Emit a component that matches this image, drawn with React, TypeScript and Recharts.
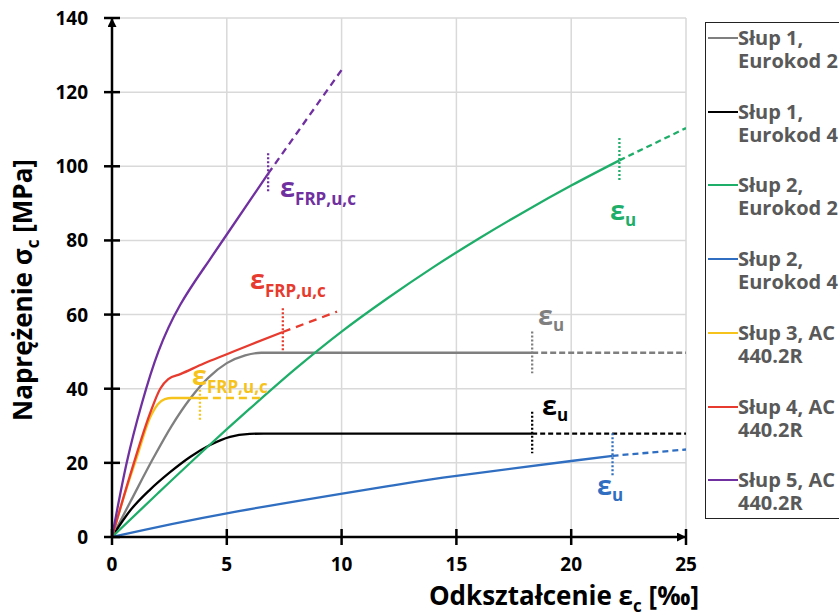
import React from "react";
import { ComposedChart, Line, XAxis, YAxis, CartesianGrid, ReferenceDot } from "recharts";

const xTicks = [0, 5, 10, 15, 20, 25];
const yTicks = [0, 20, 40, 60, 80, 100, 120, 140];

// [strain ‰, stress MPa]
const s1ec2 = [[0, 0], [0.8, 9.5], [1.8, 21.3], [2.6, 30], [3.4, 37.3], [4.2, 43], [5, 46.9], [5.8, 49], [6.5, 49.7], [18.3, 49.7]];
const s1ec2Ext = [[18.3, 49.7], [25, 49.7]];
const s1ec2Mark = [[18.3, 55.4], [18.3, 44.2]];

const s1ec4 = [[0, 0], [0.8, 7.2], [1.66, 12.8], [2.53, 17.5], [3.4, 21.6], [4.27, 24.8], [5.14, 27], [6, 27.8], [6.6, 27.9], [18.3, 27.9]];
const s1ec4Ext = [[18.3, 27.9], [25, 27.9]];
const s1ec4Mark = [[18.3, 33.8], [18.3, 22.6]];

const s2ec2 = [[0, 0], [2, 11.8], [4, 23.4], [6, 34.6], [8, 45.4], [10, 55.4], [12, 64.4], [14, 72.8], [16, 80.6], [18, 87.9], [20, 94.8], [22.1, 101.6]];
const s2ec2Ext = [[22.1, 101.6], [25, 110.3]];
const s2ec2Mark = [[22.1, 107.6], [22.1, 96.3]];

const s2ec4 = [[0, 0], [5, 6.4], [12.1, 13.8], [15, 16.5], [20, 20.5], [21.8, 21.9]];
const s2ec4Ext = [[21.8, 21.9], [25, 23.6]];
const s2ec4Mark = [[21.8, 28], [21.8, 16.3]];

const s3aci = [[0, 0], [0.5, 10.5], [1.09, 21.7], [1.66, 32.2], [2, 35.8], [2.3, 37.2], [2.6, 37.5], [3.83, 37.5]];
const s3aciExt = [[3.83, 37.5], [6.6, 37.5]];
const s3aciMark = [[3.83, 39.7], [3.83, 31.6]];

const s4aci = [[0, 0], [0.86, 18.1], [1.66, 33.4], [2.1, 40], [2.45, 42.6], [3, 44], [4, 46.8], [5, 49.3], [6, 51.8], [7.44, 55.3]];
const s4aciExt = [[7.44, 55.3], [9.8, 60.8]];
const s4aciMark = [[7.44, 61.7], [7.44, 50]];

const s5aci = [[0, 0], [0.64, 20], [1.3, 36], [2.02, 50], [2.96, 62.5], [4, 72.5], [5, 81.6], [6.8, 98]];
const s5aciExt = [[6.8, 98], [10, 126]];
const s5aciMark = [[6.8, 103.5], [6.8, 92.7]];

const series = [
  { name: ["Słup 1,", "Eurokod 2"], color: "#7f7f7f", curve: s1ec2, kind: "monotone", ext: s1ec2Ext, mark: s1ec2Mark, dash: "6 3", lab: [18.55, 57.2], sub: "u" },
  { name: ["Słup 1,", "Eurokod 4"], color: "#000000", curve: s1ec4, kind: "monotone", ext: s1ec4Ext, mark: s1ec4Mark, dash: "5 3", lab: [18.73, 32.9], sub: "u" },
  { name: ["Słup 2,", "Eurokod 2"], color: "#1fae6a", curve: s2ec2, kind: "monotone", ext: s2ec2Ext, mark: s2ec2Mark, dash: "6 4", lab: [21.69, 85.5], sub: "u" },
  { name: ["Słup 2,", "Eurokod 4"], color: "#2f6ec0", curve: s2ec4, kind: "natural", ext: s2ec4Ext, mark: s2ec4Mark, dash: "6 4", lab: [21.12, 11.3], sub: "u" },
  { name: ["Słup 3, AC", "440.2R"], color: "#f6c31c", curve: s3aci, kind: "monotone", ext: s3aciExt, mark: s3aciMark, dash: "8 5", lab: [3.48, 41], sub: "FRP,u,c" },
  { name: ["Słup 4, AC", "440.2R"], color: "#e63b2e", curve: s4aci, kind: "monotone", ext: s4aciExt, mark: s4aciMark, dash: "8 6", lab: [6.01, 66.9], sub: "FRP,u,c" },
  { name: ["Słup 5, AC", "440.2R"], color: "#7030a0", curve: s5aci, kind: "natural", ext: s5aciExt, mark: s5aciMark, dash: "7 5", lab: [7.32, 91.7], sub: "FRP,u,c" },
];

const pts = (a: number[][]) => a.map(([x, y]) => ({ x, y }));
const FONT = "'Open Sans', sans-serif";

const XTick = (p: any) => (
  <g>
    <line x1={p.x} x2={p.x} y1={p.y - 8} y2={p.y + 8} stroke="#000" strokeWidth={2.5} />
    <text x={p.x} y={p.y + 27} textAnchor="middle" dominantBaseline="central" fontFamily={FONT} fontWeight={700} fontSize={19} fill="#000">
      {p.payload.value}
    </text>
  </g>
);

const YTick = (p: any) => (
  <g>
    <line x1={p.x - 8} x2={p.x + 8} y1={p.y} y2={p.y} stroke="#000" strokeWidth={2.5} />
    <text x={p.x - 24} y={p.y} textAnchor="end" dominantBaseline="central" fontFamily={FONT} fontWeight={700} fontSize={19} fill="#000">
      {p.payload.value}
    </text>
  </g>
);

const epsShape = (color: string, sub: string) => (p: any) => (
  <text x={p.cx} y={p.cy} fill={color} fontFamily={FONT} fontWeight={700}>
    <tspan fontSize={27}>ε</tspan>
    <tspan fontSize={17} dy={sub === "u" ? 6 : 8}>{sub}</tspan>
  </text>
);

export default function App() {
  return (
    <div style={{ position: "absolute", left: 0, top: 0, width: 839, height: 616, background: "#fff", overflow: "hidden", fontFamily: FONT }}>
      <svg width={0} height={0} style={{ position: "absolute" }}>
        <defs>
          <marker id="axArrow" viewBox="0 0 10 10" refX={10} refY={5} markerWidth={11} markerHeight={9} markerUnits="userSpaceOnUse" orient="auto-start-reverse">
            <path d="M0,0 L10,5 L0,10 z" fill="#000" />
          </marker>
        </defs>
      </svg>
      <ComposedChart width={839} height={616} margin={{ top: 18, right: 153, left: 0, bottom: 0 }}>
        <CartesianGrid stroke="#d9d9d9" strokeWidth={1.5} />
        <XAxis
          type="number"
          dataKey="x"
          domain={[0, 25]}
          ticks={xTicks}
          interval={0}
          height={79}
          tickSize={0}
          tickMargin={0}
          tickLine={false}
          tick={<XTick />}
          axisLine={{ stroke: "#000", strokeWidth: 2.5, markerEnd: "url(#axArrow)" }}
          allowDataOverflow
        />
        <YAxis
          type="number"
          domain={[0, 140]}
          ticks={yTicks}
          interval={0}
          width={112}
          tickSize={0}
          tickMargin={0}
          tickLine={false}
          tick={<YTick />}
          axisLine={{ stroke: "#000", strokeWidth: 2.5, markerStart: "url(#axArrow)" }}
          allowDataOverflow
        />
        {series.map((s, i) => (
          <Line key={"c" + i} data={pts(s.curve)} dataKey="y" type={s.kind as any} stroke={s.color} strokeWidth={2.3} dot={false} activeDot={false} isAnimationActive={false} />
        ))}
        {series.map((s, i) => (
          <Line key={"e" + i} data={pts(s.ext)} dataKey="y" type="linear" stroke={s.color} strokeWidth={2.3} strokeDasharray={s.dash} dot={false} activeDot={false} isAnimationActive={false} />
        ))}
        {series.map((s, i) => (
          <Line key={"m" + i} data={pts(s.mark)} dataKey="y" type="linear" stroke={s.color} strokeWidth={2.3} strokeDasharray="2 2" dot={false} activeDot={false} isAnimationActive={false} />
        ))}
        {series.map((s, i) => (
          <ReferenceDot key={"l" + i} x={s.lab[0]} y={s.lab[1]} r={1} shape={epsShape(s.color, s.sub)} />
        ))}
      </ComposedChart>

      <div style={{ position: "absolute", left: 24, top: 290, transform: "translate(-50%, -50%) rotate(-90deg)", whiteSpace: "nowrap", fontWeight: 700, fontSize: 26, color: "#000" }}>
        Naprężenie σ<sub style={{ fontSize: 17 }}>c</sub> [MPa]
      </div>
      <div style={{ position: "absolute", left: 564, top: 597, transform: "translate(-50%, -50%)", whiteSpace: "nowrap", fontWeight: 700, fontSize: 26, color: "#000" }}>
        Odkształcenie ε<sub style={{ fontSize: 17 }}>c</sub> [‰]
      </div>

      <div style={{ position: "absolute", left: 705, top: 22, width: 150, height: 497, border: "1.5px solid #222", boxSizing: "border-box" }}>
        {series.map((s, i) => (
          <div key={i} style={{ position: "absolute", left: 0, top: 3 + 73.7 * i, width: 150 }}>
            <div style={{ position: "absolute", left: 2, top: 11, width: 30, height: 0, borderTop: `2px solid ${s.color}` }} />
            <div style={{ position: "absolute", left: 32, top: 0, fontWeight: 700, fontSize: 20, lineHeight: "23px", color: "#595959", whiteSpace: "nowrap" }}>
              {s.name[0]}
              <br />
              {s.name[1]}
            </div>
          </div>
        ))}
      </div>
    </div>
  );
}
